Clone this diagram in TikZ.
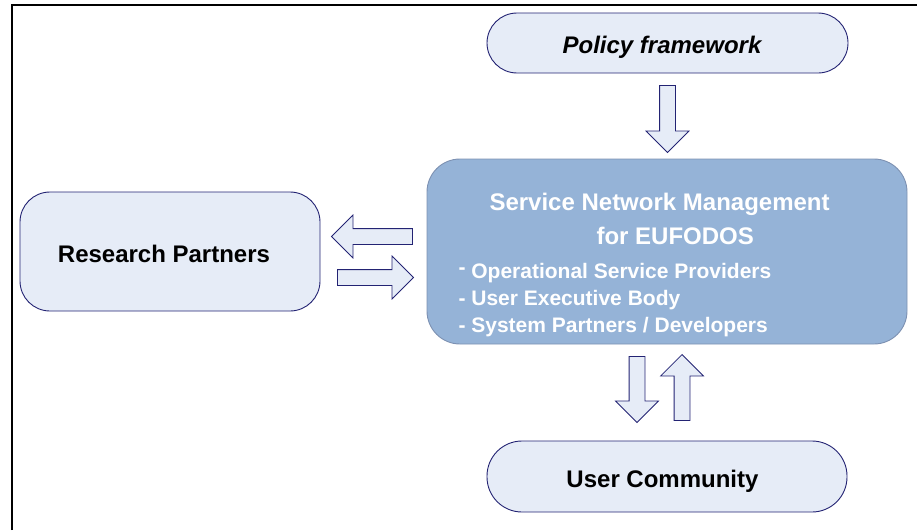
\documentclass[tikz,border=0pt]{standalone}
\usepackage{fontspec}
\setmainfont{Liberation Sans}
\usetikzlibrary{shapes.arrows}
\definecolor{boxline}{RGB}{35,35,115}
\definecolor{boxfill}{RGB}{230,236,247}
\definecolor{mainfill}{RGB}{149,179,215}
\definecolor{mainline}{RGB}{125,145,178}

\begin{document}
\begin{tikzpicture}[x=1pt,y=-1pt,
    pbox/.style={draw=boxline,fill=boxfill,line width=.9pt,rectangle,inner sep=0pt},
    barrow/.style={single arrow,draw=boxline,fill=boxfill,line width=.8pt,inner sep=7.5pt,
      single arrow head extend=13.5pt,single arrow tip angle=90,minimum width=0pt},
    btext/.style={font=\fontsize{24}{28}\selectfont\bfseries,anchor=base},
    ltext/.style={font=\fontsize{21}{25}\selectfont\bfseries,text=white,anchor=base west}]

  %% Page size and the frame (left and top only)
  \useasboundingbox (0,0) rectangle (917,530);
  \draw[line width=2pt] (12,530) -- (12,5) -- (917,5);

  %% The four boxes
  \node[pbox,rounded corners=30pt,minimum width=361pt,minimum height=60pt] (policy) at (667.5,43) {};
  \node[pbox,rounded corners=30pt,minimum width=300pt,minimum height=119pt] (research) at (170,251.5) {};
  \node[pbox,rounded corners=35pt,minimum width=360pt,minimum height=71pt] (users) at (667,476.5) {};
  \node[draw=mainline,fill=mainfill,line width=.9pt,rectangle,inner sep=0pt,rounded corners=33pt,
        minimum width=480pt,minimum height=185pt] (snm) at (667,251.5) {};

  %% Texts of the boxes
  \node[btext] (policytxt) at (662,53) {\itshape Policy framework};
  \node[btext] (researchtxt) at (164,262) {Research Partners};
  \node[btext] (userstxt) at (662.5,487) {User Community};
  \node[btext,text=white,anchor=base west] (snmtitle) at (486,210) {Service Network Management};
  \node[btext,text=white,anchor=base west] (snmfor) at (593,244) {for EUFODOS};
  \node[ltext] (snmops) at (455,278) {\raisebox{4pt}{-} Operational Service Providers};
  \foreach \n/\y/\t in {exec/305/{User Executive Body},sys/332/{System Partners / Developers}}{
    \node[ltext] (snm\n) at (455,\y) {- \t};
  }

  %% Block arrows: name/x/y/direction/length
  \foreach \n/\x/\y/\r/\l in {down/667.5/115/270/67, left/376/236.5/180/81, right/371.5/277.5/0/76,
                               udown/637/385.5/270/66, uup/682/391.5/90/66}{
    \node[barrow,shape border rotate=\r,minimum height=\l pt] (arrow\n) at (\x,\y) {};
  }
\end{tikzpicture}
\end{document}
